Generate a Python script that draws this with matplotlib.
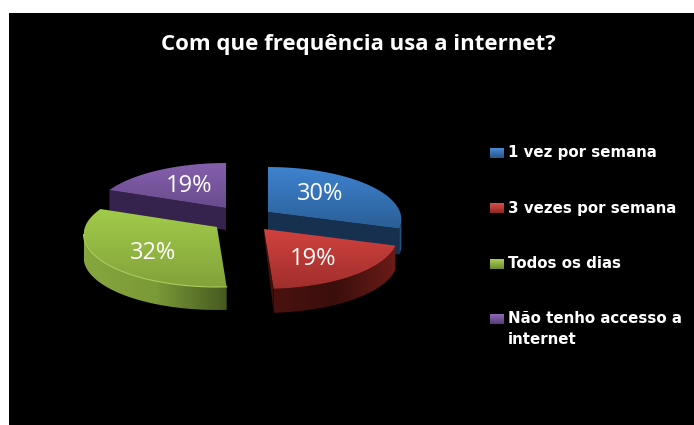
import numpy as np
import matplotlib
matplotlib.use("Agg")
import matplotlib.pyplot as plt
from matplotlib.patches import Polygon, Rectangle
from matplotlib.colors import LinearSegmentedColormap as LSC

title = "Com que frequência usa a internet?"
categories = ["1 vez por semana", "3 vezes por semana", "Todos os dias", "Não tenho accesso a\ninternet"]
values = [30, 19, 32, 19]

# layout (pixel space): apex of each exploded wedge, perspective and extrusion depth
apex = [(268, 212), (264, 229), (217, 227), (226, 208)]
R = 132
R_y = 51.4
persp = 1 / 7
depth = [26, 24, 23, 22]
label_pos = [(320, 194), (313, 259), (153, 253), (189, 186)]
legend_y = [153, 208, 264, 319]
top_cols = [("#3f82d0", "#2a5f96"), ("#d0423e", "#a02e2c"), ("#a2cb4b", "#83a23a"), ("#8560ad", "#6a4b8e")]
rim_cols = [("#1f4a76", "#2a5c8e"), ("#4a120f", "#3a0e0c", "#6b1c18"), ("#86a63e", "#7b9a38", "#465820"), ("#35234d", "#35234d")]
cut_cols = ["#17304f", "#3d0f0c", "#465820", "#35234d"]
legend_cols = [("#4a8ad6", "#265688"), ("#d8504c", "#8f2624"), ("#a9cf55", "#6f8a30"), ("#8d68b5", "#573c78")]

fig = plt.figure(figsize=(6.94, 4.25), dpi=100, facecolor="white")
ax = fig.add_axes([0, 0, 1, 1])
ax.set_xlim(0, 694)
ax.set_ylim(425, 0)
ax.axis("off")
ax.add_patch(Rectangle((9, 13), 685, 412, fc="black", ec="none", zorder=0))


def arc(i, a0, a1, n=80):
    t = np.radians(np.linspace(a0, a1, n))
    w = 1 + persp * np.cos(t)
    return np.column_stack((apex[i][0] + R * np.sin(t) / w, apex[i][1] - R_y * np.cos(t) / w))


def grad(pts, cols, vertical, z):
    cm = LSC.from_list("g", cols)
    g = np.linspace(0, 1, 128)
    g = g[:, None] if vertical else g[None, :]
    x0, y0 = pts.min(axis=0)
    x1, y1 = pts.max(axis=0)
    im = ax.imshow(g, cmap=cm, extent=(x0, x1, y1, y0), aspect="auto", zorder=z, interpolation="bilinear")
    im.set_clip_path(Polygon(pts, closed=True, transform=ax.transData))


fr = np.cumsum([0] + values) / sum(values) * 360
starts, ends = fr[:-1], fr[1:]
sil = np.degrees(np.arccos(-persp))
for z, i in enumerate([3, 0, 2, 1]):
    base = 2 + z * 3
    e = arc(i, starts[i], ends[i])
    ap = np.array(apex[i], float)
    d = np.array([0, depth[i]])
    # flat cut faces
    if i in (0, 3):
        corner = e[-1] if i == 0 else e[0]
        ax.add_patch(Polygon([ap, corner, corner + d, ap + d], fc=cut_cols[i], ec="none", zorder=base))
    if i == 1:
        ax.add_patch(Polygon([ap, e[-1], e[-1] + d, ap + d * 0.2], fc=cut_cols[i], ec="none", zorder=base))
    # outer rim, only where it faces the viewer
    lo, hi = max(starts[i], sil), min(ends[i], 360 - sil)
    r = None
    if hi > lo:
        r = arc(i, lo, hi)
        grad(np.vstack((r, (r + d)[::-1])), rim_cols[i], False, base + 1)
    # top face
    grad(np.vstack((ap, e)), top_cols[i], True, base + 2)
    if i == 2:
        ax.plot(r[:, 0], r[:, 1], color="#aed05c", lw=0.8, zorder=base + 2.5)

for i, v in enumerate(values):
    ax.text(*label_pos[i], f"{v}%", color="white", fontsize=17, family="Open Sans",
            ha="center", va="center", zorder=30)

ax.text(358, 44, title, color="white", fontsize=16, family="Open Sans", weight="bold",
        ha="center", va="center", zorder=30)

for i, c in enumerate(categories):
    y = legend_y[i]
    sq = np.array([(490, y - 5), (504, y - 5), (504, y + 5), (490, y + 5)], float)
    grad(sq, legend_cols[i], True, 20)
    multi = "\n" in c
    ax.text(508, y - 8 if multi else y, c, color="white", fontsize=10.8, family="DejaVu Sans", weight="bold",
            ha="left", va="top" if multi else "center", linespacing=1.5, zorder=30)

ax.set_xlim(0, 694)
ax.set_ylim(425, 0)
fig.savefig("out.png", dpi=100, facecolor="white")
